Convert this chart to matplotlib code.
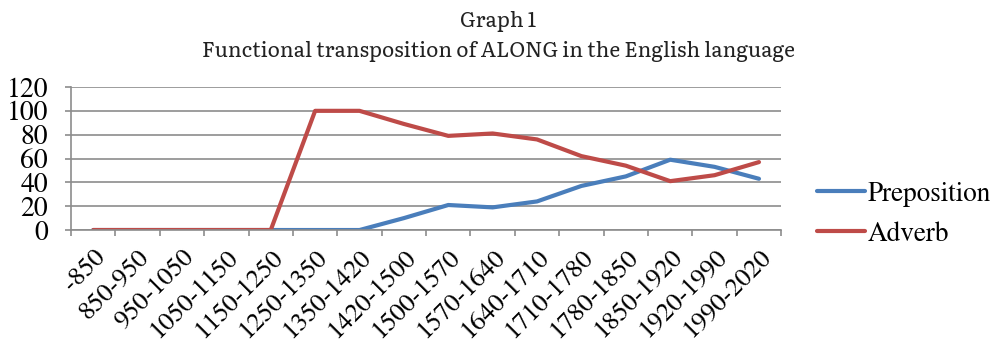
import matplotlib.pyplot as plt
import numpy as np

# ================================
# Data
# ================================
periodos = ['-850', '850-950', '950-1050', '1050-1150', '1150-1250',
            '1250-1350', '1350-1420', '1420-1500', '1500-1570', '1570-1640',
            '1640-1710', '1710-1780', '1780-1850', '1850-1920', '1920-1990',
            '1990-2020']
preposition = [0, 0, 0, 0, 0, 0, 0, 10, 21, 19, 24, 37, 45, 59, 53, 43]
adverb = [0, 0, 0, 0, 0, 100, 100, 89, 79, 81, 76, 62, 54, 41, 46, 57]
y_ticks = [0, 20, 40, 60, 80, 100, 120]

cor_azul = '#4A7EBB'
cor_vermelha = '#BE4B48'
cor_grade = '#8C8C8C'

# STIXGeneral vem com o matplotlib e parece Times
plt.rcParams['font.family'] = ['STIXGeneral', 'DejaVu Serif']
tam = 20

# ================================
# Figure
# ================================
fig = plt.figure(figsize=(9.96, 3.48), dpi=100)
ax = fig.add_axes([0.0713, 0.339, 0.713, 0.411])

x = np.arange(len(periodos))
ax.plot(x, preposition, color=cor_azul, linewidth=3, label='Preposition',
        solid_capstyle='round', solid_joinstyle='round')
ax.plot(x, adverb, color=cor_vermelha, linewidth=3, label='Adverb',
        solid_capstyle='round', solid_joinstyle='round')

ax.set_xlim(-0.5, len(periodos) - 0.5)
ax.set_ylim(0, 120)
ax.set_yticks(y_ticks)
ax.set_yticklabels([str(v) for v in y_ticks], fontsize=tam)
ax.yaxis.grid(True, color=cor_grade, linewidth=1.2)
ax.set_axisbelow(True)

ax.set_xticks(x)
ax.set_xticklabels(periodos, fontsize=19,
                   rotation=45, ha='right', va='top', rotation_mode='anchor')
ax.set_xticks(np.arange(len(periodos) + 1) - 0.5, minor=True)
ax.tick_params(axis='x', which='major', length=0, pad=11)
ax.tick_params(axis='x', which='minor', length=4.5, color=cor_grade, width=1.2)
ax.tick_params(axis='y', length=4.5, color=cor_grade, width=1.2, pad=12)

for lado in ['top', 'right']:
    ax.spines[lado].set_visible(False)
for lado in ['left', 'bottom']:
    ax.spines[lado].set_color(cor_grade)
    ax.spines[lado].set_linewidth(1.2)

leg = fig.legend(loc='center left', bbox_to_anchor=(0.796, 0.384), frameon=False,
                 prop={'size': 19.5}, handlelength=1.75, handletextpad=0.1,
                 labelspacing=0.55)

fig.text(0.5, 0.937, 'Graph 1', ha='center', va='center',
         family=['Literata', 'DejaVu Serif'], fontsize=15, color='#222222')
fig.text(0.5, 0.851, 'Functional transposition of ALONG in the English language',
         ha='center', va='center', family=['Literata', 'DejaVu Serif'], fontsize=15,
         color='#222222')

plt.savefig('out.png', dpi=100)
